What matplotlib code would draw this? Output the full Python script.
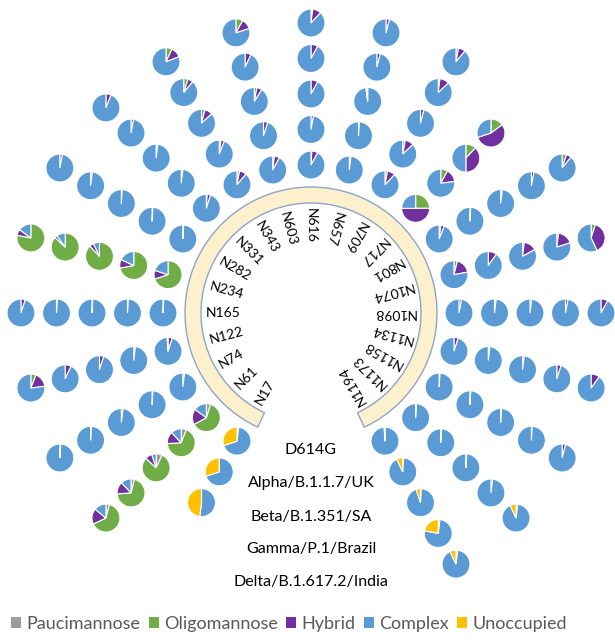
import matplotlib
matplotlib.use("Agg")
import matplotlib.pyplot as plt
import numpy as np
from matplotlib.patches import Wedge, Patch

# N-glycosylation sites of spike, N17 sits at the left end of the horseshoe
sites = ["N17", "N61", "N74", "N122", "N165", "N234", "N282", "N331", "N343",
         "N603", "N616", "N657", "N709", "N717", "N801", "N1074", "N1098",
         "N1134", "N1158", "N1173", "N1194"]

variants = ["D614G", "Alpha/B.1.1.7/UK", "Beta/B.1.351/SA",
            "Gamma/P.1/Brazil", "Delta/B.1.617.2/India"]

glycan_types = ["Paucimannose", "Oligomannose", "Hybrid", "Complex", "Unoccupied"]
colors = ["#9C9C9C", "#70AD47", "#7030A0", "#5B9BD5", "#FFC000"]

# % per site: (pauci, oligo, hybrid, complex, unoccupied); None = site not present
d614g = [(0, 0, 2, 68, 30), (5, 62, 18, 15, 0), (0, 0, 2, 98, 0), (0, 0, 5, 94, 1),
         (0, 0, 1, 99, 0), (0, 70, 10, 20, 0), (0, 0, 1, 99, 0), (0, 1, 4, 95, 0),
         (0, 3, 8, 89, 0), (0, 2, 6, 92, 0), (0, 1, 7, 92, 0), (0, 0, 2, 98, 0),
         (0, 3, 9, 88, 0), (0, 25, 50, 25, 0), (0, 2, 4, 94, 0), (0, 4, 18, 78, 0),
         (0, 0, 3, 97, 0), (0, 0, 5, 95, 0), (0, 0, 1, 99, 0), (0, 0, 1, 99, 0),
         (0, 0, 0, 99, 1)]
alpha = [(0, 0, 0, 70, 30), (6, 68, 14, 12, 0), (0, 0, 1, 99, 0), (0, 0, 2, 98, 0),
         (0, 0, 1, 99, 0), (0, 72, 10, 18, 0), (0, 0, 1, 99, 0), (0, 0, 2, 98, 0),
         (0, 2, 4, 94, 0), (0, 0, 5, 95, 0), (0, 0, 3, 97, 0), (0, 0, 1, 99, 0),
         (0, 3, 10, 87, 0), (0, 8, 15, 77, 0), (0, 0, 1, 99, 0), (0, 0, 10, 90, 0),
         (0, 0, 2, 98, 0), (0, 0, 2, 98, 0), (0, 0, 1, 99, 0), (0, 0, 1, 99, 0),
         (0, 0, 1, 92, 7)]
beta = [(0, 0, 0, 52, 48), (7, 80, 8, 5, 0), (0, 0, 2, 98, 0), (0, 0, 5, 95, 0),
        (0, 0, 1, 99, 0), (0, 88, 5, 7, 0), (0, 0, 1, 99, 0), (0, 1, 1, 98, 0),
        (0, 4, 9, 87, 0), (0, 3, 6, 91, 0), (0, 0, 8, 92, 0), (0, 0, 0, 98, 2),
        (0, 0, 4, 96, 0), (0, 12, 38, 50, 0), (0, 0, 2, 98, 0), (0, 2, 15, 83, 0),
        (0, 0, 2, 98, 0), (0, 0, 2, 98, 0), (0, 0, 1, 99, 0), (0, 0, 1, 99, 0),
        (0, 0, 1, 94, 5)]
gamma = [None, (4, 70, 14, 12, 0), (0, 0, 1, 99, 0), (0, 0, 7, 93, 0),
         (0, 0, 1, 99, 0), (0, 87, 3, 10, 0), (0, 0, 2, 98, 0), (0, 0, 3, 97, 0),
         (0, 5, 6, 89, 0), (0, 0, 7, 93, 0), (0, 0, 8, 92, 0), (0, 0, 4, 96, 0),
         (0, 2, 11, 87, 0), (0, 15, 55, 30, 0), (0, 0, 3, 97, 0), (0, 2, 18, 80, 0),
         (0, 0, 3, 97, 0), (0, 0, 5, 95, 0), (0, 0, 1, 99, 0), (0, 0, 2, 98, 0),
         (0, 0, 2, 76, 22)]
delta = [None, (4, 64, 18, 14, 0), (0, 0, 1, 99, 0), (0, 6, 17, 77, 0),
         (0, 0, 5, 95, 0), (0, 78, 7, 15, 0), (0, 0, 3, 97, 0), (0, 0, 6, 94, 0),
         (0, 7, 12, 81, 0), (0, 8, 12, 80, 0), (0, 2, 10, 88, 0), (0, 0, 4, 96, 0),
         (0, 3, 8, 89, 0), None, (0, 5, 6, 89, 0), (0, 5, 38, 57, 0),
         (0, 0, 8, 92, 0), (0, 0, 10, 90, 0), (0, 0, 4, 96, 0), (0, 0, 2, 91, 7),
         (0, 0, 2, 91, 7)]

rings = [d614g, alpha, beta, gamma, delta]

# layout (pixel-like units, origin at the centre of the arc)
site_angles = 240 - 15 * np.arange(len(sites))
ring_radii = 148 + 35.5 * np.arange(len(rings))
pie_r = 14

fig = plt.figure(figsize=(6.15, 6.43), dpi=100)
ax = fig.add_axes([0, 0, 1, 1])

for ring, rr in zip(rings, ring_radii):
    for vals, ang in zip(ring, site_angles):
        if vals is None:
            continue
        t = np.deg2rad(ang)
        keep = [(v, c) for v, c in zip(vals, colors) if v > 0]
        ax.pie([v for v, _ in keep], colors=[c for _, c in keep],
               center=(rr * np.cos(t), rr * np.sin(t)), radius=pie_r,
               startangle=90, counterclock=False,
               wedgeprops=dict(edgecolor="white", linewidth=0.8))

# cream horseshoe carrying the site labels
ax.add_patch(Wedge((0, 0), 126, -65, 245, width=16, facecolor="#FDF1CD",
                   edgecolor="#8EA4C8", linewidth=1.0, zorder=3))

for name, ang in zip(sites, site_angles):
    t = np.deg2rad(ang)
    ax.text(105 * np.cos(t), 105 * np.sin(t), name, rotation=ang + 180,
            rotation_mode="anchor", ha="left", va="center",
            fontsize=10, family="Lato", color="black")

for name, y in zip(variants, [-137, -170, -204, -236, -269]):
    ax.text(0, y, name, ha="center", va="center", fontsize=11.5,
            family="Lato", color="black")

ax.set_xlim(-311, 304)
ax.set_ylim(-330, 313)
ax.set_aspect("equal")
ax.axis("off")

handles = [Patch(facecolor=c, edgecolor="none") for c in colors]
fig.legend(handles, glycan_types, loc="lower left", bbox_to_anchor=(-0.008, -0.008),
           ncol=5, frameon=False, handlelength=0.55, handleheight=0.55,
           handletextpad=0.3, columnspacing=0.45, labelcolor="#595959",
           prop=dict(family="Lato", size=13))

fig.savefig("out.png", dpi=100)
